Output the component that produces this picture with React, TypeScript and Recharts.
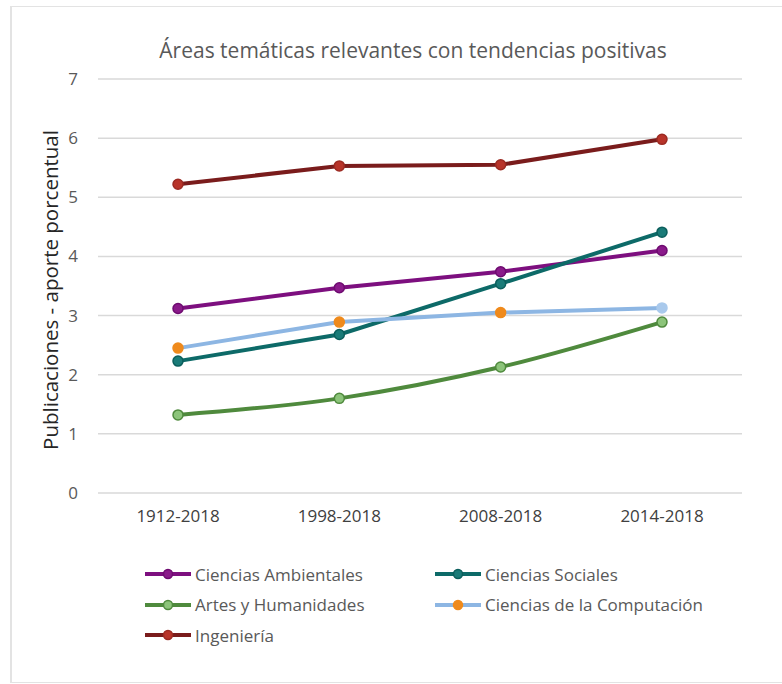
import React from 'react';
import { LineChart, Line, XAxis, YAxis, CartesianGrid } from 'recharts';

const periods = ['1912-2018', '1998-2018', '2008-2018', '2014-2018'];
const ambientales = [3.12, 3.47, 3.74, 4.1];
const sociales = [2.23, 2.68, 3.54, 4.41];
const artes = [1.32, 1.6, 2.13, 2.89];
const computacion = [2.45, 2.89, 3.05, 3.13];
const ingenieria = [5.22, 5.53, 5.55, 5.98];
const yTicks = [0, 1, 2, 3, 4, 5, 6, 7];

const series = [
  { key: 'ambientales', name: 'Ciencias Ambientales', values: ambientales, line: '#7d0f7f', dot: '#8a1a8a', dotStroke: '#6e0b70' },
  { key: 'sociales', name: 'Ciencias Sociales', values: sociales, line: '#0d6a68', dot: '#1a7b78', dotStroke: '#0b5e5c' },
  { key: 'artes', name: 'Artes y Humanidades', values: artes, line: '#4f8a3d', dot: '#8cc47a', dotStroke: '#4f8a3d', curve: true },
  { key: 'computacion', name: 'Ciencias de la Computación', values: computacion, line: '#8db6e3', dot: '#ef8a1c', dotStroke: '#ef8a1c' },
  { key: 'ingenieria', name: 'Ingeniería', values: ingenieria, line: '#7a1c1c', dot: '#b8342a', dotStroke: '#9c2a22' },
];

const data = periods.map((p, i) => {
  const row: any = { period: p };
  series.forEach((s) => { row[s.key] = s.values[i]; });
  return row;
});

const font = '"Open Sans", "Noto Sans", sans-serif';

const App: React.FC = () => {
  const renderDot = (s: any) => (props: any) => {
    const { cx, cy, index } = props;
    // the last marker of Computación keeps the line colour
    const last = s.key === 'computacion' && index === periods.length - 1;
    return (
      <circle key={`${s.key}-${index}`} cx={cx} cy={cy} r={5}
        fill={last ? '#a9c9ec' : s.dot} stroke={last ? '#a9c9ec' : s.dotStroke} strokeWidth={1.5} />
    );
  };

  return (
    <div style={{ position: 'absolute', left: 0, top: 0, width: 782, height: 684, background: '#fff', fontFamily: font }}>
      <div style={{ position: 'absolute', left: 10, top: 6, right: 0, bottom: 1, borderTop: '1px solid #e3e3e3', borderLeft: '2px solid #e3e3e3', borderBottom: '1px solid #e3e3e3' }} />
      <div style={{ position: 'absolute', left: 0, width: 826, top: 36, textAlign: 'center', fontSize: 21, color: '#595959' }}>
        Áreas temáticas relevantes con tendencias positivas
      </div>
      <div style={{ position: 'absolute', left: 50, top: 290, width: 0, height: 0 }}>
        <div style={{ position: 'absolute', transform: 'translate(-50%, -50%) rotate(-90deg)', whiteSpace: 'nowrap', fontSize: 20.5, color: '#262626' }}>
          Publicaciones - aporte porcentual
        </div>
      </div>
      <div style={{ position: 'absolute', left: 0, top: 0 }}>
        <LineChart width={782} height={684} data={data} margin={{ top: 79, right: 40, bottom: 161, left: 58 }}>
          <CartesianGrid vertical={false} stroke="#d9d9d9" strokeWidth={1.5} />
          <XAxis dataKey="period" axisLine={false} tickLine={false} padding={{ left: 80, right: 80 }}
            height={30} tick={{ fill: '#404040', fontSize: 17, fontFamily: font }} tickMargin={11} />
          <YAxis domain={[0, 7]} ticks={yTicks} axisLine={false} tickLine={false} width={40}
            tick={{ fill: '#595959', fontSize: 17, fontFamily: font }} tickMargin={14} />
          {series.map((s) => (
            <Line key={s.key} dataKey={s.key} name={s.name} type={s.curve ? 'monotone' : 'linear'}
              stroke={s.line} strokeWidth={4} dot={renderDot(s)} activeDot={false} isAnimationActive={false} />
          ))}
        </LineChart>
      </div>
      <div style={{ position: 'absolute', left: 145, top: 562, display: 'grid', gridTemplateColumns: '290px 300px', rowGap: 6.5, fontSize: 17, color: '#595959' }}>
        {series.map((s) => (
          <div key={s.key} style={{ display: 'flex', alignItems: 'center', height: 24 }}>
            <svg width={46} height={12} style={{ marginRight: 4 }}>
              <line x1={0} y1={6} x2={46} y2={6} stroke={s.line} strokeWidth={4} />
              <circle cx={23} cy={6} r={4.5} fill={s.dot} stroke={s.dotStroke} strokeWidth={1.5} />
            </svg>
            <span>{s.name}</span>
          </div>
        ))}
      </div>
    </div>
  );
};

export default App;
